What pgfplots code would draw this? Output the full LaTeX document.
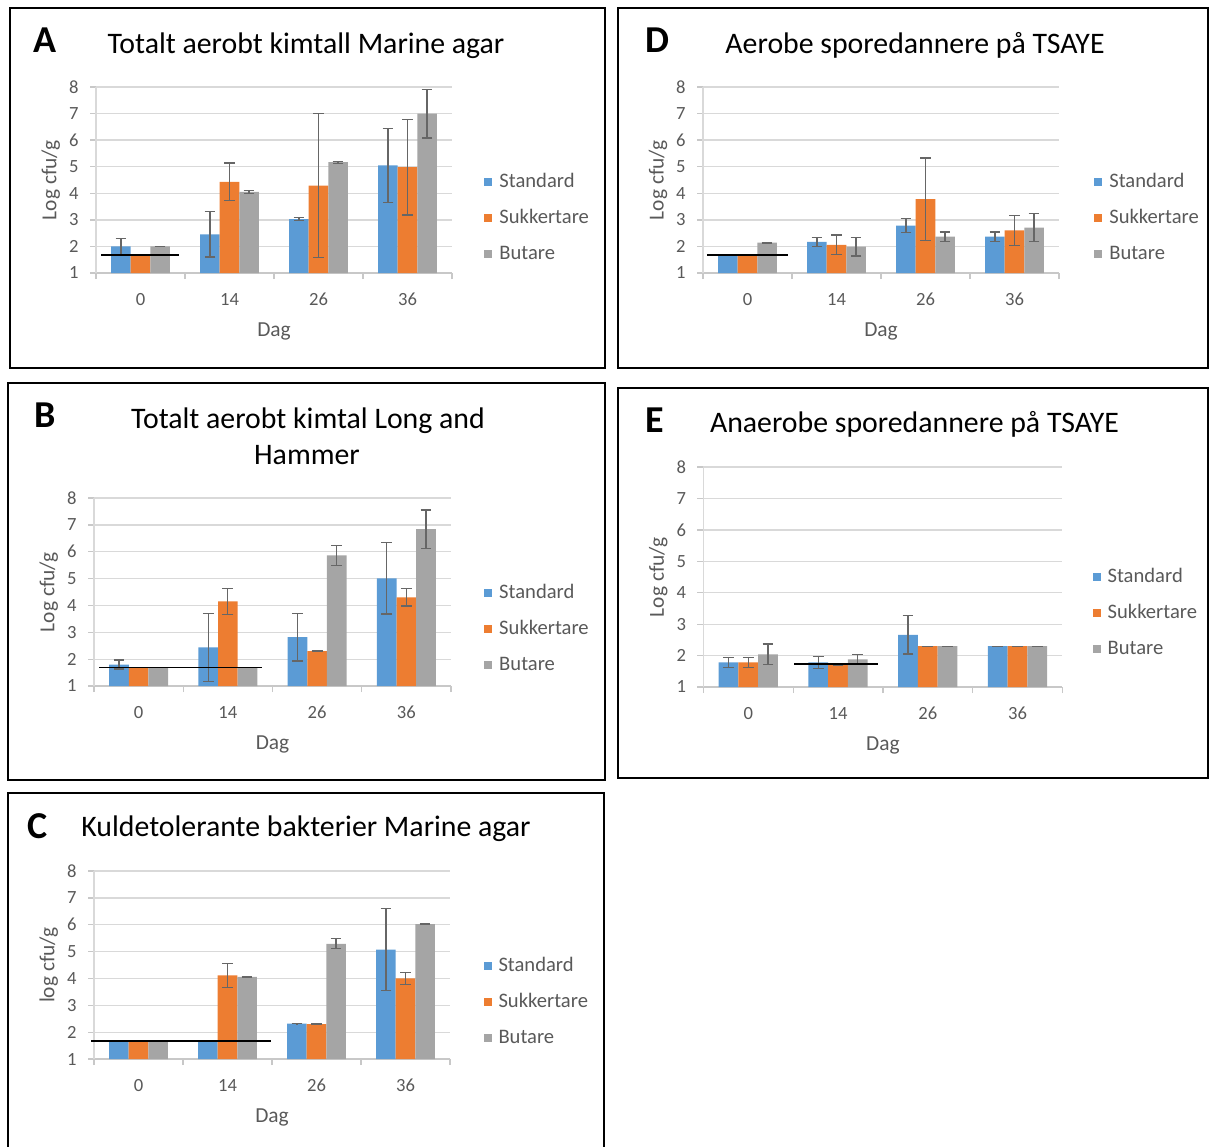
\documentclass[border=0pt]{standalone}
\usepackage{pgfplots}
\pgfplotsset{compat=1.18}
\usepackage{fontspec}
\setmainfont{Carlito}
\definecolor{cblue}{HTML}{5B9BD5}
\definecolor{corange}{HTML}{ED7D31}
\definecolor{cgray}{HTML}{A5A5A5}
\definecolor{gridc}{HTML}{D9D9D9}
\definecolor{axc}{HTML}{C8C8C8}
\definecolor{labc}{HTML}{595959}
\definecolor{errc}{HTML}{666666}
\pgfplotsset{
  eb/.style={error bars/.cd, y dir=both, y explicit,
    error bar style={draw=errc, line width=0.6pt},
    error mark options={draw=errc, line width=0.6pt, rotate=90, mark size=2.7pt}},
  panel/.style={
    scale only axis, anchor=south west, clip=false,
    ybar, bar width=0.22,
    xmin=-0.5, xmax=3.5, ymin=1, ymax=8,
    xtick={-0.5,0.5,1.5,2.5,3.5}, xticklabels={},
    extra x ticks={0,1,2,3}, extra x tick labels={0,14,26,36},
    extra x tick style={major tick length=0pt},
    ytick={1,2,3,4,5,6,7,8},
    ymajorgrids,
    major grid style={draw=gridc, line width=0.65pt},
    axis x line*=bottom, axis y line*=left,
    x axis line style={draw=axc, line width=0.65pt},
    y axis line style={draw=gridc, line width=0.65pt},
    tick align=outside, major tick length=3pt,
    tick style={draw=axc, line width=0.65pt},
    tick label style={font=\fontsize{9.3}{11}\selectfont, text=labc},
    /pgf/number format/assume math mode=true,
    yticklabel style={anchor=east, inner sep=0pt, xshift=-5.5pt},
    xticklabel style={anchor=base, inner sep=0pt, yshift=-16.25pt},
    xlabel={Dag},
    xlabel style={at={(axis description cs:0.5,0)}, anchor=base, yshift=-31.5pt,
      font=\fontsize{10.7}{12}\selectfont, text=labc, inner sep=0pt},
    ylabel style={at={([xshift=-19.75pt]axis description cs:0,0.5)}, anchor=base,
      font=\fontsize{10.7}{12}\selectfont, text=labc, inner sep=0pt},
    legend cell align=left,
    legend style={draw=none, fill=none, inner sep=0pt, anchor=west,
      column sep=3.5pt, row sep=9.4pt,
      font=\fontsize{10.3}{12}\selectfont, text=labc,
      nodes={inner sep=0pt, text height=7pt, text depth=1.6pt}},
    legend image code/.code={\draw[##1,draw=none] (0pt,-2pt) rectangle (4pt,2pt);},
  },
  sA/.style={fill=cblue, draw=none, bar shift=-0.22, eb},
  sB/.style={fill=corange, draw=none, bar shift=0, eb},
  sC/.style={fill=cgray, draw=none, bar shift=0.22, eb},
  dl/.style={sharp plot, black, line width=0.7pt, forget plot},
}
\begin{document}
\begin{tikzpicture}
\begin{scope}[x=0.5pt,y=-0.5pt]
\useasboundingbox (0,0) rectangle (1209,1146);
\draw[line width=1pt] (10,8) rectangle (605,368);
\draw[line width=1pt] (8,383) rectangle (605,780);
\draw[line width=1pt] (8,1150) -- (8,793) -- (604,793) -- (604,1150);
\draw[line width=1pt] (618,8) rectangle (1208,368);
\draw[line width=1pt] (618,388) rectangle (1208,778);
\begin{scope}[every node/.style={inner sep=0pt, anchor=base}]
\node[font=\fontsize{14.9}{17.5}\selectfont] at (306,53) {Totalt aerobt kimtall Marine agar};
\node[font=\fontsize{14.9}{17.5}\selectfont] at (308,428) {Totalt aerobt kimtal Long and};
\node[font=\fontsize{14.9}{17.5}\selectfont] at (307,464) {Hammer};
\node[font=\fontsize{14.9}{17.5}\selectfont] at (306,836) {Kuldetolerante bakterier Marine agar};
\node[font=\fontsize{14.9}{17.5}\selectfont] at (915,53) {Aerobe sporedannere på TSAYE};
\node[font=\fontsize{14.9}{17.5}\selectfont] at (914.5,432) {Anaerobe sporedannere på TSAYE};
\node[font=\fontsize{19}{22}\selectfont\bfseries] at (45,52) {A};
\node[font=\fontsize{19}{22}\selectfont\bfseries] at (45,427) {B};
\node[font=\fontsize{19}{22}\selectfont\bfseries] at (38,838) {C};
\node[font=\fontsize{19}{22}\selectfont\bfseries] at (657,52) {D};
\node[font=\fontsize{19}{22}\selectfont\bfseries] at (655,432) {E};
\end{scope}
\end{scope}

% Panel A
\begin{axis}[panel, at={(48pt,-136.5pt)}, width=178pt, height=93pt,
  ylabel={Log cfu/g}, legend style={at={(1.09,0.295)}}]
\addplot[sA] coordinates {(0,2.00) +- (0,0.30) (1,2.45) +- (0,0.85) (2,3.03) +- (0,0.05) (3,5.05) +- (0,1.40)};
\addplot[sB] coordinates {(0,1.70) +- (0,0) (1,4.43) +- (0,0.71) (2,4.29) +- (0,2.71) (3,4.98) +- (0,1.80)};
\addplot[sC] coordinates {(0,2.00) +- (0,0.01) (1,4.05) +- (0,0.06) (2,5.17) +- (0,0.04) (3,7.00) +- (0,0.92)};
\addplot[dl] coordinates {(-0.44,1.68) (0.43,1.68)};
\legend{Standard,Sukkertare,Butare}
\end{axis}

% Panel B
\begin{axis}[panel, at={(47pt,-343pt)}, width=178.5pt, height=94pt,
  ylabel={Log cfu/g}, legend style={at={(1.092,0.303)}}]
\addplot[sA] coordinates {(0,1.80) +- (0,0.17) (1,2.44) +- (0,1.27) (2,2.82) +- (0,0.89) (3,5.01) +- (0,1.33)};
\addplot[sB] coordinates {(0,1.70) +- (0,0) (1,4.15) +- (0,0.49) (2,2.30) +- (0,0.01) (3,4.30) +- (0,0.32)};
\addplot[sC] coordinates {(0,1.70) +- (0,0) (1,1.70) +- (0,0) (2,5.86) +- (0,0.37) (3,6.84) +- (0,0.71)};
\addplot[dl] coordinates {(-0.44,1.70) (1.38,1.70)};
\legend{Standard,Sukkertare,Butare}
\end{axis}

% Panel C
\begin{axis}[panel, at={(47pt,-529.5pt)}, width=178pt, height=94pt,
  ylabel={log cfu/g}, legend style={at={(1.093,0.303)}}]
\addplot[sA] coordinates {(0,1.70) +- (0,0) (1,1.70) +- (0,0) (2,2.32) +- (0,0.01) (3,5.07) +- (0,1.53)};
\addplot[sB] coordinates {(0,1.70) +- (0,0) (1,4.11) +- (0,0.44) (2,2.30) +- (0,0.01) (3,4.00) +- (0,0.23)};
\addplot[sC] coordinates {(0,1.70) +- (0,0) (1,4.06) +- (0,0.01) (2,5.29) +- (0,0.19) (3,6.02) +- (0,0.01)};
\addplot[dl] coordinates {(-0.53,1.67) (1.49,1.67)};
\legend{Standard,Sukkertare,Butare}
\end{axis}

% Panel D
\begin{axis}[panel, at={(351.5pt,-136.5pt)}, width=178pt, height=93pt,
  ylabel={Log cfu/g}, legend style={at={(1.098,0.295)}}]
\addplot[sA] coordinates {(0,1.70) +- (0,0) (1,2.17) +- (0,0.17) (2,2.78) +- (0,0.26) (3,2.37) +- (0,0.17)};
\addplot[sB] coordinates {(0,1.70) +- (0,0) (1,2.06) +- (0,0.37) (2,3.78) +- (0,1.55) (3,2.60) +- (0,0.57)};
\addplot[sC] coordinates {(0,2.14) +- (0,0.02) (1,1.99) +- (0,0.35) (2,2.37) +- (0,0.17) (3,2.71) +- (0,0.52)};
\addplot[dl] coordinates {(-0.455,1.68) (0.46,1.68)};
\legend{Standard,Sukkertare,Butare}
\end{axis}

% Panel E
\begin{axis}[panel, at={(351.7pt,-343.5pt)}, width=179.5pt, height=110pt,
  ylabel={Log cfu/g}, legend style={at={(1.083,0.336)}}]
\addplot[sA] coordinates {(0,1.78) +- (0,0.17) (1,1.78) +- (0,0.18) (2,2.66) +- (0,0.61) (3,2.30) +- (0,0)};
\addplot[sB] coordinates {(0,1.78) +- (0,0.17) (1,1.70) +- (0,0.01) (2,2.30) +- (0,0) (3,2.30) +- (0,0)};
\addplot[sC] coordinates {(0,2.04) +- (0,0.33) (1,1.88) +- (0,0.16) (2,2.30) +- (0,0) (3,2.30) +- (0,0)};
\addplot[dl] coordinates {(0.51,1.73) (1.44,1.73)};
\legend{Standard,Sukkertare,Butare}
\end{axis}
\end{tikzpicture}
\end{document}
